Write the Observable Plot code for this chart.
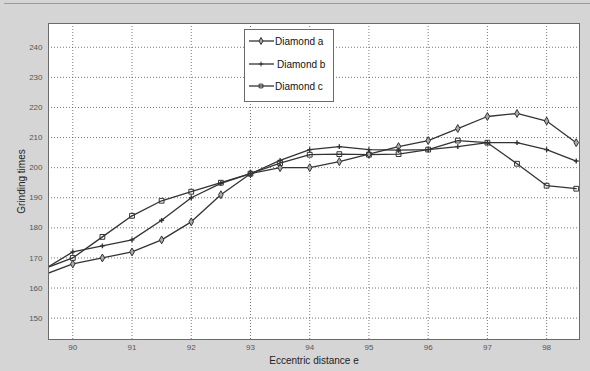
<!DOCTYPE html>
<html>
<head>
<meta charset="utf-8">
<script src="https://cdn.jsdelivr.net/npm/d3@7"></script>
<script src="https://cdn.jsdelivr.net/npm/@observablehq/plot@0.6"></script>
<style>
  html, body { margin: 0; padding: 0; }
  body { width: 590px; height: 371px; background: #d5d5d5; position: relative; overflow: hidden; font-family: "Liberation Sans", Arial, sans-serif; }
  #topline { position: absolute; left: 4px; top: 3px; width: 586px; height: 1px; background: #9a9a9a; }
  #chart { position: absolute; left: 0; top: 0; }
  #legend { position: absolute; left: 244px; top: 29px; }
</style>
</head>
<body>
<div id="topline"></div>
<div id="chart"></div>
<div id="legend"></div>
<script>
// Eccentric distance e
const eccentric = [89.5, 90, 90.5, 91, 91.5, 92, 92.5, 93, 93.5, 94, 94.5, 95, 95.5, 96, 96.5, 97, 97.5, 98, 98.5];
// Grinding times
const diamondA = [164.3, 168, 170, 172, 176, 182, 191, 198, 200, 200, 202, 204.5, 207, 209, 213, 217, 218, 215.5, 208.3];
const diamondB = [166, 172, 174, 176, 182.5, 190, 194.8, 198, 202.4, 206, 207, 206, 205.8, 206, 207, 208.3, 208.3, 206, 202.2];
const diamondC = [166.3, 170, 177, 184, 189, 192, 195, 198, 201.5, 204.3, 204.5, 204.3, 204.5, 206, 209, 208.3, 201.3, 194, 193];
const seriesNames = ["Diamond a", "Diamond b", "Diamond c"];
const xTicks = [90, 91, 92, 93, 94, 95, 96, 97, 98];
const yTicks = [150, 160, 170, 180, 190, 200, 210, 220, 230, 240];

const seriesValues = [diamondA, diamondB, diamondC];
const rows = [];
seriesNames.forEach((name, i) => {
  eccentric.forEach((e, j) => rows.push({series: name, e, t: seriesValues[i][j]}));
});
const ofSeries = s => rows.filter(r => r.series === s);

const ink = "#333";
const plot = Plot.plot({
  width: 590,
  height: 371,
  marginLeft: 48,
  marginRight: 11,
  marginTop: 23,
  marginBottom: 32,
  style: {background: "transparent", fontFamily: "'Liberation Sans', Arial, sans-serif"},
  x: {domain: [89.59, 98.555]},
  y: {domain: [142.9, 247.9]},
  marks: [
    Plot.frame({fill: "white", stroke: "none"}),
    Plot.gridX(xTicks, {stroke: "#555", strokeOpacity: 0.8, strokeDasharray: "1,2", strokeWidth: 1}),
    Plot.gridY(yTicks, {stroke: "#555", strokeOpacity: 0.8, strokeDasharray: "1,2", strokeWidth: 1}),
    Plot.axisX(xTicks, {tickSize: 0, tickPadding: 5, fontSize: 8, fill: "#555", label: "Eccentric distance e", labelAnchor: "center", labelOffset: 24, labelArrow: "none"}),
    Plot.axisY(yTicks, {tickSize: 0, tickPadding: 6, fontSize: 8, fill: "#555", label: "Grinding times", labelAnchor: "center", labelOffset: 31, labelArrow: "none"}),
    Plot.line(ofSeries("Diamond a"), {x: "e", y: "t", stroke: ink, strokeWidth: 1.3, clip: true}),
    Plot.line(ofSeries("Diamond b"), {x: "e", y: "t", stroke: ink, strokeWidth: 1.3, clip: true}),
    Plot.line(ofSeries("Diamond c"), {x: "e", y: "t", stroke: ink, strokeWidth: 1.3, clip: true}),
    Plot.dot(ofSeries("Diamond a"), {x: "e", y: "t", symbol: "diamond", r: 2.4, stroke: ink, fill: "#aaa", strokeWidth: 1, clip: true}),
    Plot.dot(ofSeries("Diamond b"), {x: "e", y: "t", symbol: "plus", r: 1.7, stroke: ink, strokeWidth: 1.4, clip: true}),
    Plot.dot(ofSeries("Diamond c"), {x: "e", y: "t", symbol: "square", r: 2.7, stroke: ink, fill: "none", strokeWidth: 1, clip: true}),
    Plot.frame({stroke: "#6a6a6a", strokeWidth: 1})
  ]
});
plot.querySelectorAll("text").forEach(t => { if (t.textContent === "Eccentric distance e" || t.textContent === "Grinding times") { t.setAttribute("font-size", "10"); t.setAttribute("fill", "#222"); } });
document.getElementById("chart").appendChild(plot);

// Legend (keyed to the series names)
const lw = 90, lh = 73;
const ls = d3.create("svg").attr("width", lw).attr("height", lh);
ls.append("rect").attr("x", 0.5).attr("y", 0.5).attr("width", lw - 1).attr("height", lh - 1).attr("fill", "white").attr("stroke", "#6a6a6a");
const rowY = [12, 35, 57];
const sym = [d3.symbolDiamond, d3.symbolPlus, d3.symbolSquare];
seriesNames.forEach((name, i) => {
  const g = ls.append("g").attr("transform", `translate(0,${rowY[i]})`);
  g.append("line").attr("x1", 5).attr("x2", 30).attr("stroke", ink).attr("stroke-width", 1.3);
  g.append("path").attr("transform", "translate(17,0)").attr("d", d3.symbol(sym[i], i === 1 ? 9 : 14)())
    .attr("fill", i === 0 ? "#aaa" : "none").attr("stroke", ink).attr("stroke-width", 1);
  g.append("text").attr("x", i === 1 ? 33 : 31).attr("y", 0).attr("dy", "0.35em").attr("font-size", 10)
    .attr("font-family", "'Liberation Sans', Arial, sans-serif").attr("fill", "#111").text(name);
});
document.getElementById("legend").appendChild(ls.node());
</script>
</body>
</html>
